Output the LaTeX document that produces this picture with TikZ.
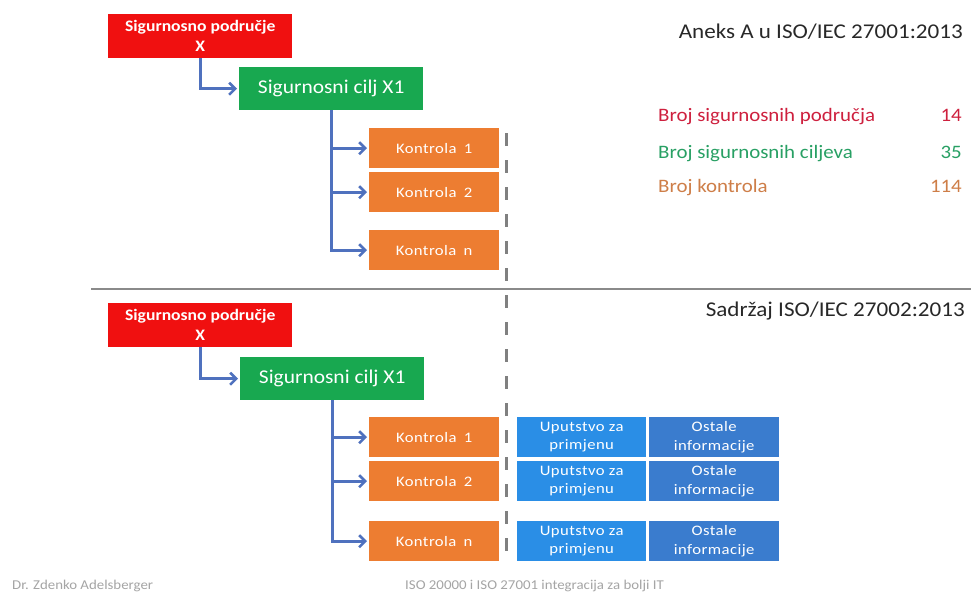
\documentclass[tikz,border=0pt]{standalone}
\usepackage{fontspec}
\setmainfont{Carlito}[FakeStretch=1.1]
\newfontfamily\boxfont{Carlito}[FakeStretch=1.15,LetterSpace=3]
\usetikzlibrary{arrows.meta}
\definecolor{boxred}{RGB}{240,16,16}
\definecolor{boxgreen}{RGB}{24,168,80}
\definecolor{boxorange}{RGB}{237,125,49}
\definecolor{boxblue}{RGB}{42,142,230}
\definecolor{boxblueB}{RGB}{58,124,206}
\definecolor{linkblue}{RGB}{79,113,190}
\definecolor{rulegray}{RGB}{138,138,138}
\definecolor{dashgray}{RGB}{128,128,128}
\definecolor{statred}{RGB}{206,32,62}
\definecolor{statgreen}{RGB}{40,160,100}
\definecolor{statorange}{RGB}{206,126,72}
\definecolor{titlegray}{RGB}{40,40,40}
\definecolor{footgray}{RGB}{165,165,165}
\begin{document}
\begin{tikzpicture}[x=1pt,y=-1pt,
  base/.style={inner sep=0pt, anchor=north west, text=white, align=center},
  areabox/.style={base, fill=boxred, minimum width=184pt, minimum height=44pt,
    font=\bfseries\fontsize{16}{20}\selectfont},
  goalbox/.style={base, fill=boxgreen, minimum width=184pt, minimum height=43pt,
    font=\fontsize{19.5}{22}\selectfont},
  ctrlbox/.style={base, fill=boxorange, minimum width=130pt, minimum height=40pt,
    font=\boxfont\fontsize{14.5}{17}\selectfont},
  guidebox/.style={base, fill=boxblue, minimum width=129pt, minimum height=40pt,
    font=\boxfont\fontsize{14.5}{18.5}\selectfont},
  infobox/.style={base, fill=boxblueB, minimum width=130pt, minimum height=40pt,
    font=\boxfont\fontsize{14.5}{18.5}\selectfont},
  link/.style={draw=linkblue, line width=2.6pt, -{Straight Barb[length=6pt,width=12pt]}, shorten >=2pt},
  titletext/.style={inner sep=0pt, anchor=base east, text=titlegray, font=\fontsize{21}{25}\selectfont},
  statlabel/.style={inner sep=0pt, anchor=base west, font=\fontsize{19}{23}\selectfont},
  statnum/.style={inner sep=0pt, anchor=base east, font=\fontsize{19}{23}\selectfont},
  foottext/.style={inner sep=0pt, anchor=base west, text=footgray, font=\fontsize{13.5}{16}\selectfont}
]
\useasboundingbox[fill=white] (0,0) rectangle (971,595);

% separators
\coordinate (ruleL) at (91,289);
\coordinate (ruleR) at (971,289);
\draw[rulegray, line width=2.8pt] (ruleL) -- (ruleR);
\coordinate (dashT) at (506,133);
\coordinate (dashB) at (506,562);
\draw[dashgray, line width=3pt, dash pattern=on 13pt off 14pt] (dashT) -- (dashB);

% upper part
\node[areabox] (ra) at (108,14) {Sigurnosno područje\\X};
\node[goalbox] (ga) at (239,67) {Sigurnosni cilj X1};
\node[ctrlbox] (ka1) at (369,128) {Kontrola\enspace 1};
\node[ctrlbox] (ka2) at (369,172) {Kontrola\enspace 2};
\node[ctrlbox] (kan) at (369,230) {Kontrola\enspace n};
\draw[link] (ra.south) |- (ga.west);
\draw[link] (ga.south) |- (ka1.west);
\draw[link] (ga.south) |- (ka2.west);
\draw[link] (ga.south) |- (kan.west);

\node[titletext] (t1) at (963,38) {Aneks A u ISO/IEC 27001:2013};
\node[statlabel, text=statred] (s1) at (658,121.5) {Broj sigurnosnih područja};
\node[statnum, text=statred] (n1) at (962,121.5) {14};
\node[statlabel, text=statgreen] (s2) at (658,158.5) {Broj sigurnosnih ciljeva};
\node[statnum, text=statgreen] (n2) at (962,158.5) {35};
\node[statlabel, text=statorange] (s3) at (658,192) {Broj kontrola};
\node[statnum, text=statorange] (n3) at (962,192) {114};

% lower part
\node[titletext] (t2) at (965,316.5) {Sadržaj ISO/IEC 27002:2013};
\node[areabox] (rb) at (108,303) {Sigurnosno područje\\X};
\node[goalbox] (gb) at (240,357) {Sigurnosni cilj X1};
\node[ctrlbox] (kb1) at (369,417) {Kontrola\enspace 1};
\node[ctrlbox] (kb2) at (369,461) {Kontrola\enspace 2};
\node[ctrlbox] (kbn) at (369,521) {Kontrola\enspace n};
\draw[link] (rb.south) |- (gb.west);
\draw[link] (gb.south) |- (kb1.west);
\draw[link] (gb.south) |- (kb2.west);
\draw[link] (gb.south) |- (kbn.west);

\node[guidebox] (u1) at (517,417) {Uputstvo za\\primjenu};
\node[guidebox] (u2) at (517,461) {Uputstvo za\\primjenu};
\node[guidebox] (un) at (517,521) {Uputstvo za\\primjenu};
\node[infobox] (o1) at (649,417) {Ostale\\informacije};
\node[infobox] (o2) at (649,461) {Ostale\\informacije};
\node[infobox] (on) at (649,521) {Ostale\\informacije};

% footer
\node[foottext] (f1) at (12,589) {Dr. Zdenko Adelsberger};
\node[foottext] (f2) at (405,589) {ISO 20000 i ISO 27001 integracija za bolji IT};
\end{tikzpicture}
\end{document}
